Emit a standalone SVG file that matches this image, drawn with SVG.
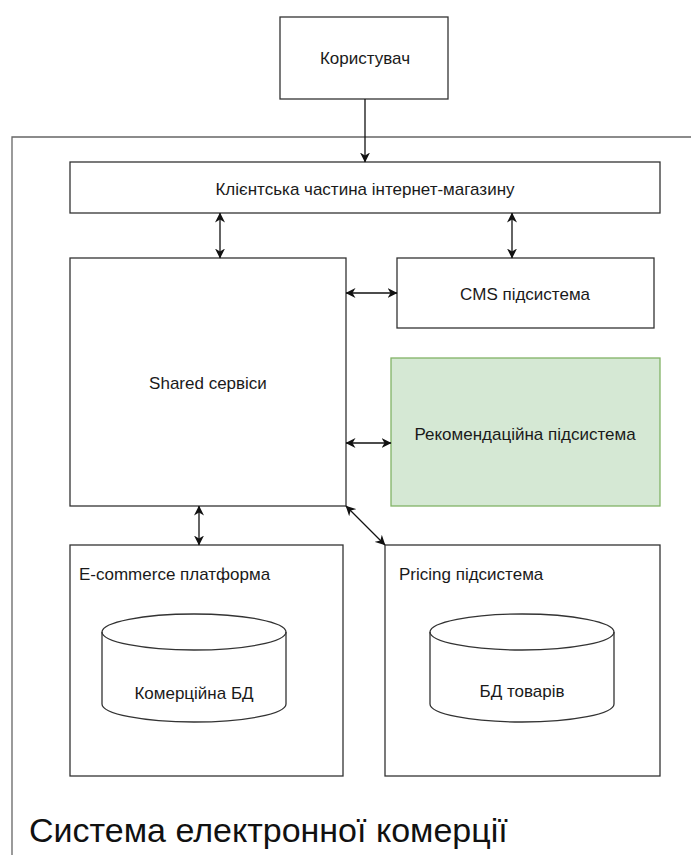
<svg xmlns="http://www.w3.org/2000/svg" width="691" height="855" viewBox="0 0 691 855">
<style>
.box{fill:#fff;stroke:#333;stroke-width:1.3}
.frame{fill:none;stroke:#666;stroke-width:1.3}
.green{fill:#d5e8d4;stroke:#82b366;stroke-width:1.3}
.t{font-family:"Liberation Sans",Arial,sans-serif;font-size:17px;fill:#1a1a1a}
.c{text-anchor:middle}
.big{font-family:"Liberation Sans",Arial,sans-serif;font-size:34px;fill:#111}
.con{stroke:#111;stroke-width:1.3;fill:none}
</style>
<defs>
<marker id="ah" viewBox="0 0 10 10" refX="9.5" refY="5" markerWidth="10" markerHeight="10" orient="auto-start-reverse" markerUnits="userSpaceOnUse">
<path d="M0,0 L10,5 L0,10 L3,5 z" fill="#111"/>
</marker>
</defs>
<g id="system-frame">
<path class="frame" d="M12,855 L12,137 L691,137"/>
<text class="big" x="29" y="842">Система електронної комерції</text>
</g>
<g id="user">
<rect class="box" x="280" y="17" width="168" height="82"/>
<text class="t c" x="365" y="64">Користувач</text>
</g>
<g id="client">
<rect class="box" x="70" y="162" width="590" height="51"/>
<text class="t c" x="365" y="195">Клієнтська частина інтернет-магазину</text>
</g>
<g id="shared">
<rect class="box" x="70" y="258" width="276" height="248"/>
<text class="t c" x="208" y="389">Shared сервіси</text>
</g>
<g id="cms">
<rect class="box" x="397" y="258" width="257" height="70"/>
<text class="t c" x="525" y="300">CMS підсистема</text>
</g>
<g id="recommend">
<rect class="green" x="391" y="358" width="269" height="148"/>
<text class="t c" x="525" y="440">Рекомендаційна підсистема</text>
</g>
<g id="ecommerce">
<rect class="box" x="70" y="545" width="273" height="231"/>
<text class="t" x="79" y="580">E-commerce платформа</text>
</g>
<g id="commercial-db">
<path class="box" d="M102,632 L102,704 A92,18 0 0 0 286,704 L286,632 A92,18 0 0 0 102,632 Z"/>
<path class="box" style="fill:none" d="M102,632 A92,18 0 0 0 286,632"/>
<text class="t c" x="194" y="699">Комерційна БД</text>
</g>
<g id="pricing">
<rect class="box" x="385" y="545" width="275" height="231"/>
<text class="t" x="399" y="580">Pricing підсистема</text>
</g>
<g id="products-db">
<path class="box" d="M430,632 L430,704 A92,18 0 0 0 614,704 L614,632 A92,18 0 0 0 430,632 Z"/>
<path class="box" style="fill:none" d="M430,632 A92,18 0 0 0 614,632"/>
<text class="t c" x="522" y="697">БД товарів</text>
</g>
<g id="connectors">
<line class="con" x1="365" y1="99" x2="365" y2="162" marker-end="url(#ah)"/>
<line class="con" x1="220" y1="213" x2="220" y2="258" marker-start="url(#ah)" marker-end="url(#ah)"/>
<line class="con" x1="512" y1="213" x2="512" y2="258" marker-start="url(#ah)" marker-end="url(#ah)"/>
<line class="con" x1="346" y1="293" x2="397" y2="293" marker-start="url(#ah)" marker-end="url(#ah)"/>
<line class="con" x1="346" y1="443" x2="391" y2="443" marker-start="url(#ah)" marker-end="url(#ah)"/>
<line class="con" x1="199" y1="506" x2="199" y2="545" marker-start="url(#ah)" marker-end="url(#ah)"/>
<line class="con" x1="346" y1="506" x2="385" y2="545" marker-start="url(#ah)" marker-end="url(#ah)"/>
</g>
</svg>
